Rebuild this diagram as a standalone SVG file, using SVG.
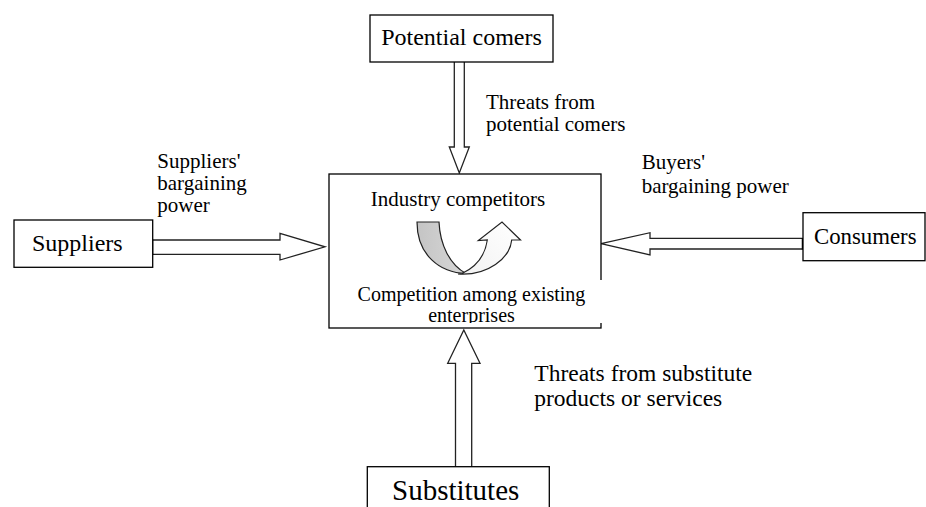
<svg xmlns="http://www.w3.org/2000/svg" width="926" height="507" viewBox="0 0 926 507" font-family="'Liberation Serif', 'Times New Roman', Times, serif">
  <style>
    .box { fill: #ffffff; stroke: #000000; stroke-width: 1.3; }
    .label { font-family: 'Liberation Serif', 'Times New Roman', Times, serif; fill: #000000; }
    .hollow { fill: #ffffff; stroke: #222222; stroke-width: 1.3; stroke-linejoin: miter; }
  </style>
  <defs>
    <linearGradient id="ribbonBack" x1="0" y1="0" x2="1" y2="0">
      <stop offset="0" stop-color="#c4c4c4"/>
      <stop offset="1" stop-color="#d8d8d8"/>
    </linearGradient>
    <linearGradient id="ribbonFront" x1="0" y1="1" x2="1" y2="0">
      <stop offset="0" stop-color="#f2f2f2"/>
      <stop offset="1" stop-color="#ffffff"/>
    </linearGradient>
    <clipPath id="captionClip">
      <rect x="330" y="280" width="275" height="43"/>
    </clipPath>
  </defs>

  <!-- connectors: hollow block arrows -->
  <g id="connectors">
    <!-- potential comers -> industry -->
    <path class="hollow" d="M454.3,62 L454.3,147 L449.3,147 L459.3,173 L469.3,147 L464.3,147 L464.3,62"/>
    <!-- suppliers -> industry -->
    <path class="hollow" d="M152,240 L280,240 L280,233.3 L325,246.8 L280,260 L280,254.3 L152,254.3 Z"/>
    <line x1="152" y1="239.5" x2="152" y2="255" stroke="#000" stroke-width="2.5"/>
    <!-- consumers -> industry -->
    <path class="hollow" d="M803,238.3 L650,238.3 L650,232.7 L601,243.6 L650,255 L650,249 L803,249 Z"/>
    <line x1="803" y1="238" x2="803" y2="249.5" stroke="#000" stroke-width="2.5"/>
    <!-- substitutes -> industry -->
    <path class="hollow" d="M455.5,466.7 L455.5,363.3 L447.7,363.3 L463.8,330 L480,363.3 L471.7,363.3 L471.7,466.7"/>
  </g>

  <!-- industry competitors -->
  <g id="industry">
    <rect class="box" x="329" y="174" width="272" height="154"/>
    <text class="label" x="458" y="206" font-size="21" text-anchor="middle">Industry competitors</text>
    <!-- twisted rivalry ribbon -->
    <path d="M417,222 L439,222 C440,245 450,265 466,273.5 C440,273 417,255 417,222 Z" fill="url(#ribbonBack)" stroke="#222" stroke-width="1.2"/>
    <path d="M458,274 C488,276 510,258 511.7,240 L520.5,240 L502,222 L478.3,240.5 L487.3,240 C485,256 476,267 462,273.5 Z" fill="url(#ribbonFront)" stroke="#222" stroke-width="1.2" stroke-linejoin="miter"/>
    <rect x="340" y="280" width="265" height="43" fill="#ffffff"/>
    <g clip-path="url(#captionClip)">
      <text class="label" x="471.5" y="300.7" font-size="20" text-anchor="middle">Competition among existing</text>
      <text class="label" x="471.5" y="321.7" font-size="20" text-anchor="middle">enterprises</text>
    </g>
  </g>

  <!-- potential comers -->
  <g id="potential-comers">
    <rect class="box" x="370" y="15" width="183" height="47"/>
    <text class="label" x="461.5" y="45" font-size="24" text-anchor="middle">Potential comers</text>
  </g>

  <!-- suppliers -->
  <g id="suppliers">
    <rect class="box" x="14" y="220" width="138.7" height="47.3"/>
    <text class="label" x="32" y="251" font-size="24">Suppliers</text>
  </g>

  <!-- consumers -->
  <g id="consumers">
    <rect class="box" x="803" y="212.7" width="122" height="48"/>
    <text class="label" x="814" y="243.5" font-size="22.8">Consumers</text>
  </g>

  <!-- substitutes -->
  <g id="substitutes">
    <rect class="box" x="367.3" y="466.7" width="182" height="60"/>
    <text class="label" x="392" y="499.5" font-size="29">Substitutes</text>
  </g>

  <!-- force labels -->
  <g id="force-labels">
    <text class="label" font-size="21" x="486" y="108.5">Threats from</text>
    <text class="label" font-size="21" x="486" y="130.5">potential comers</text>

    <text class="label" font-size="21" x="157.3" y="168.3">Suppliers'</text>
    <text class="label" font-size="21" x="157.3" y="190">bargaining</text>
    <text class="label" font-size="21" x="157.3" y="211.7">power</text>

    <text class="label" font-size="21" x="641.7" y="169">Buyers'</text>
    <text class="label" font-size="21" x="641.7" y="193.3">bargaining power</text>

    <text class="label" font-size="23.5" x="534.3" y="380.5">Threats from substitute</text>
    <text class="label" font-size="23.5" x="534.3" y="405.5">products or services</text>
  </g>
</svg>
